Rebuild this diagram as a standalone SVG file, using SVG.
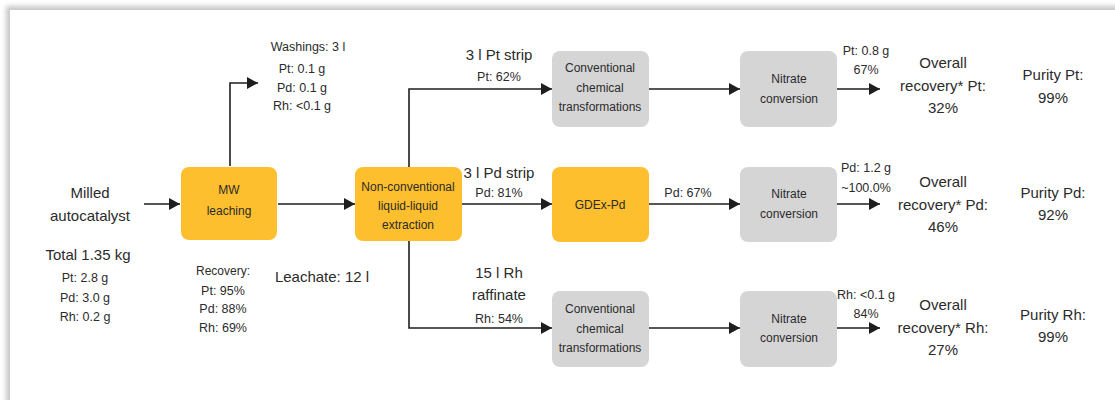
<svg xmlns="http://www.w3.org/2000/svg" width="1115" height="400" viewBox="0 0 1115 400">
<defs>
<filter id="sh" x="-5%" y="-5%" width="110%" height="110%"><feGaussianBlur stdDeviation="2.5"/></filter>
<marker id="ah" markerUnits="userSpaceOnUse" markerWidth="11" markerHeight="12" refX="11" refY="6" orient="auto"><path d="M0,0 L11,6 L0,12 z" fill="#1e1e1e"/></marker>
<style>
text{font-family:"Liberation Sans",Arial,sans-serif;fill:#2b2b2b;text-anchor:middle}
.s{font-size:12.5px}
.n{font-size:12px}
.b{font-size:15px}
.or{fill:#FDBF2D}
.gr{fill:#D5D5D5}
.c{fill:none;stroke:#1e1e1e;stroke-width:1.6;marker-end:url(#ah)}
</style>
</defs>
<rect width="1115" height="400" fill="#fff"/>
<rect x="6" y="6" width="1130" height="420" fill="#c8c8c8" filter="url(#sh)"/>
<rect x="10" y="10" width="1120" height="420" fill="#fff"/>

<g id="connectors">
<path class="c" d="M144,204 H180"/>
<path class="c" d="M278,204 H355"/>
<path class="c" d="M230,166 V83 H258"/>
<path class="c" d="M409,167 V89 H552"/>
<path class="c" d="M462,204 H552"/>
<path class="c" d="M409,241 V328 H552"/>
<path class="c" d="M649,89 H740"/>
<path class="c" d="M649,204 H740"/>
<path class="c" d="M649,328 H740"/>
<path class="c" d="M837,89 H880"/>
<path class="c" d="M837,204 H880"/>
<path class="c" d="M837,328 H880"/>
</g>

<g id="input">
<text class="b" x="90" y="198">Milled</text>
<text class="b" x="90" y="221">autocatalyst</text>
<text class="b" x="88" y="260">Total 1.35 kg</text>
<text class="s" x="85" y="282">Pt: 2.8 g</text>
<text class="s" x="85" y="302">Pd: 3.0 g</text>
<text class="s" x="85" y="321">Rh: 0.2 g</text>
</g>

<g id="mw-leaching">
<rect class="or" x="181" y="167" width="96" height="73" rx="8"/>
<text class="n" x="229" y="194">MW</text>
<text class="n" x="229" y="215">leaching</text>
</g>

<g id="washings">
<text class="s" x="308" y="51">Washings: 3 l</text>
<text class="s" x="302" y="73">Pt: 0.1 g</text>
<text class="s" x="302" y="92">Pd: 0.1 g</text>
<text class="s" x="302" y="110">Rh: &lt;0.1 g</text>
</g>

<g id="recovery">
<text class="n" x="223" y="275">Recovery:</text>
<text class="s" x="223" y="295">Pt: 95%</text>
<text class="s" x="223" y="313">Pd: 88%</text>
<text class="s" x="223" y="332">Rh: 69%</text>
</g>

<g id="leachate">
<text class="b" x="322" y="282">Leachate: 12 l</text>
</g>

<g id="llextraction">
<rect class="or" x="355" y="167" width="107" height="74" rx="8"/>
<text class="n" x="408" y="190.5">Non-conventional</text>
<text class="n" x="408" y="209.5">liquid-liquid</text>
<text class="n" x="408" y="228.5">extraction</text>
</g>

<g id="stream-labels">
<text class="b" x="499" y="60">3 l Pt strip</text>
<text class="s" x="499" y="81">Pt: 62%</text>
<text class="b" x="499" y="178">3 l Pd strip</text>
<text class="s" x="499" y="197">Pd: 81%</text>
<text class="b" x="499" y="278">15 l Rh</text>
<text class="b" x="499" y="300">raffinate</text>
<text class="s" x="499" y="323">Rh: 54%</text>
<text class="s" x="688" y="197">Pd: 67%</text>
</g>

<g id="conv-pt">
<rect class="gr" x="552" y="51" width="97" height="76" rx="8"/>
<text class="n" x="600" y="72">Conventional</text>
<text class="n" x="600" y="91.5">chemical</text>
<text class="n" x="600" y="110.5">transformations</text>
</g>

<g id="gdex-pd">
<rect class="or" x="552" y="167" width="97" height="75" rx="8"/>
<text class="n" x="600" y="208.5">GDEx-Pd</text>
</g>

<g id="conv-rh">
<rect class="gr" x="552" y="291" width="97" height="76" rx="8"/>
<text class="n" x="600" y="313">Conventional</text>
<text class="n" x="600" y="333">chemical</text>
<text class="n" x="600" y="352">transformations</text>
</g>

<g id="nitrate-pt">
<rect class="gr" x="740" y="51" width="97" height="76" rx="8"/>
<text class="n" x="789" y="82.5">Nitrate</text>
<text class="n" x="789" y="102.5">conversion</text>
</g>

<g id="nitrate-pd">
<rect class="gr" x="740" y="167" width="97" height="75" rx="8"/>
<text class="n" x="789" y="197.5">Nitrate</text>
<text class="n" x="789" y="217.5">conversion</text>
</g>

<g id="nitrate-rh">
<rect class="gr" x="740" y="291" width="97" height="76" rx="8"/>
<text class="n" x="789" y="323">Nitrate</text>
<text class="n" x="789" y="342">conversion</text>
</g>

<g id="output-labels">
<text class="s" x="866" y="55">Pt: 0.8 g</text>
<text class="s" x="866" y="74">67%</text>
<text class="s" x="866" y="172">Pd: 1.2 g</text>
<text class="s" x="866" y="192">~100.0%</text>
<text class="s" x="866" y="299">Rh: &lt;0.1 g</text>
<text class="s" x="866" y="318">84%</text>
</g>

<g id="overall-pt">
<text class="b" x="943" y="68">Overall</text>
<text class="b" x="943" y="91">recovery* Pt:</text>
<text class="b" x="943" y="113">32%</text>
</g>
<g id="overall-pd">
<text class="b" x="943" y="187">Overall</text>
<text class="b" x="943" y="210">recovery* Pd:</text>
<text class="b" x="943" y="232">46%</text>
</g>
<g id="overall-rh">
<text class="b" x="943" y="310">Overall</text>
<text class="b" x="943" y="333">recovery* Rh:</text>
<text class="b" x="943" y="355">27%</text>
</g>

<g id="purity-pt">
<text class="b" x="1053" y="80">Purity Pt:</text>
<text class="b" x="1053" y="103">99%</text>
</g>
<g id="purity-pd">
<text class="b" x="1053" y="198">Purity Pd:</text>
<text class="b" x="1053" y="220">92%</text>
</g>
<g id="purity-rh">
<text class="b" x="1053" y="320">Purity Rh:</text>
<text class="b" x="1053" y="342">99%</text>
</g>
</svg>
